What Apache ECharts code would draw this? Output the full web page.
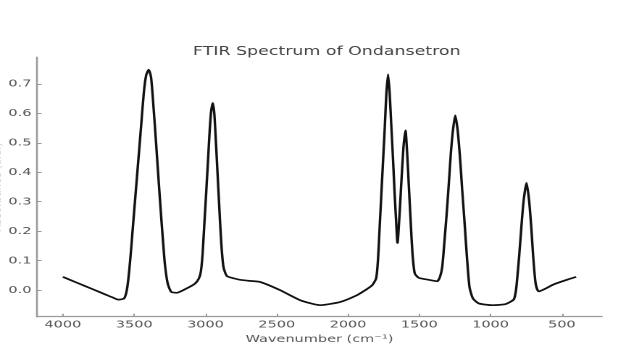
<!DOCTYPE html>
<html>
<head>
<meta charset="utf-8">
<script src="https://cdn.jsdelivr.net/npm/echarts@6/dist/echarts.min.js"></script>
<style>
  html, body { margin: 0; padding: 0; background: #fff; overflow: hidden; }
  #chart { width: 432px; height: 352px; transform: scaleX(1.449); transform-origin: 0 0; }
</style>
</head>
<body>
<div id="chart"></div>
<script>
// Wavenumbers (cm-1) and absorbance values
const wavenumbers = [
  4000, 3900, 3800, 3700, 3650, 3612, 3570, 3548, 3528, 3509, 3490, 3471, 3452, 3433, 3416, 3398,
  3382, 3368, 3351, 3335, 3319, 3302, 3285, 3265, 3240, 3203, 3132, 3074, 3046,
  3032, 3020, 3009, 2998, 2986, 2973, 2962, 2949, 2938, 2926, 2914, 2902, 2889, 2874, 2850,
  2800, 2757, 2700, 2617, 2476, 2335, 2195, 2054, 1937, 1879, 1830, 1803,
  1790, 1778, 1766, 1754, 1742, 1731, 1719, 1708, 1696, 1684, 1673, 1663, 1653,
  1637, 1624, 1611, 1597, 1585, 1573, 1561, 1548, 1532, 1504, 1433, 1400, 1375, 1355,
  1339, 1323, 1308, 1293, 1279, 1264, 1248, 1231, 1215, 1199, 1182, 1166, 1148, 1124, 1082,
  987, 894, 838, 826, 817, 800, 784, 768, 748, 730, 715, 701, 684, 662, 555, 460, 400
];
const absorbance = [
  0.045, 0.025, 0.005, -0.015, -0.025, -0.032, -0.028, 0.011, 0.102, 0.215, 0.328, 0.441, 0.554, 0.667, 0.729, 0.748,
  0.723, 0.644, 0.531, 0.418, 0.305, 0.192, 0.090, 0.023, -0.006, -0.009, 0.006, 0.022, 0.040,
  0.064, 0.124, 0.215, 0.305, 0.407, 0.520, 0.599, 0.635, 0.599, 0.497, 0.384, 0.271, 0.158, 0.079, 0.048,
  0.040, 0.035, 0.032, 0.028, 0.000, -0.034, -0.051, -0.040, -0.017, 0.000, 0.017, 0.040,
  0.102, 0.215, 0.328, 0.441, 0.554, 0.667, 0.732, 0.667, 0.554, 0.441, 0.328, 0.237, 0.160,
  0.271, 0.384, 0.486, 0.542, 0.463, 0.350, 0.237, 0.124, 0.057, 0.042, 0.035, 0.032, 0.030, 0.045,
  0.079, 0.169, 0.260, 0.362, 0.463, 0.542, 0.593, 0.542, 0.452, 0.339, 0.226, 0.113, 0.011, -0.028, -0.045,
  -0.051, -0.047, -0.032, -0.012, 0.020, 0.113, 0.215, 0.305, 0.364, 0.305, 0.215, 0.113, 0.023, -0.004, 0.020, 0.036, 0.045
];
const xTicks = [4000, 3500, 3000, 2500, 2000, 1500, 1000, 500];
const yTicks = [0.0, 0.1, 0.2, 0.3, 0.4, 0.5, 0.6, 0.7];

const data = wavenumbers.map((w, i) => [w, absorbance[i]]);

const chart = echarts.init(document.getElementById('chart'), null, { renderer: 'canvas', devicePixelRatio: 2 });
const axisColor = '#999';
const textColor = '#555';
chart.setOption({
  animation: false,
  title: {
    text: 'FTIR Spectrum of Ondansetron',
    left: 220.5,
    textAlign: 'center',
    top: 41,
    textStyle: { fontFamily: 'DejaVu Sans', fontSize: 12, fontWeight: 'normal', color: '#444' }
  },
  grid: { left: 25.7, right: 16.7, top: 57.3, bottom: 35.3, containLabel: false, outerBoundsMode: 'none' },
  xAxis: {
    type: 'value',
    inverse: true,
    min: 220,
    max: 4180,
    name: 'Wavenumber (cm⁻¹)',
    nameLocation: 'middle',
    nameGap: 14,
    nameTextStyle: { fontFamily: 'DejaVu Sans', fontSize: 10, color: textColor },
    axisLine: { show: true, onZero: false, lineStyle: { color: axisColor, width: 1.3 } },
    axisTick: { show: true, inside: true, length: 3, customValues: xTicks, lineStyle: { color: axisColor, width: 1 } },
    axisLabel: { customValues: xTicks, margin: 3, fontFamily: 'DejaVu Sans', fontSize: 10, color: textColor,
      formatter: v => String(v) },
    splitLine: { show: false }
  },
  yAxis: {
    type: 'value',
    min: -0.09,
    max: 0.79,
    name: 'Absorbance (a.u.)',
    nameLocation: 'middle',
    nameGap: 23,
    nameMoveOverlap: false,
    nameTextStyle: { fontFamily: 'DejaVu Sans', fontSize: 10, color: '#c8c8c8' },
    axisLine: { show: true, onZero: false, lineStyle: { color: axisColor, width: 1.3 } },
    axisTick: { show: true, inside: true, length: 3, customValues: yTicks, lineStyle: { color: axisColor, width: 1 } },
    axisLabel: { customValues: yTicks, margin: 4, fontFamily: 'DejaVu Sans', fontSize: 10, color: textColor,
      formatter: v => v.toFixed(1) },
    splitLine: { show: false }
  },
  series: [{
    type: 'line',
    data: data,
    showSymbol: false,
    smooth: 0.2,
    lineStyle: { color: '#111', width: 1.7 },
    z: 3
  }]
});
</script>
</body>
</html>
